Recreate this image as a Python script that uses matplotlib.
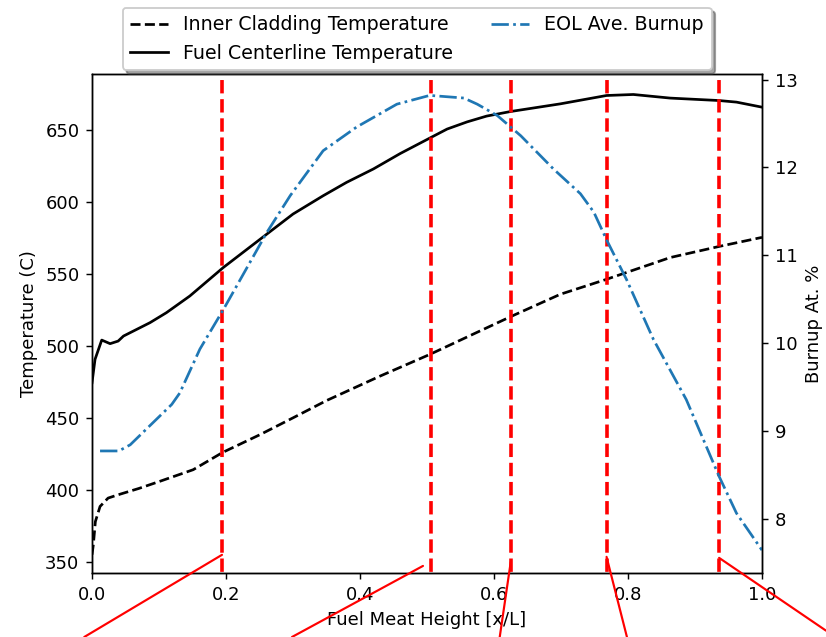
import numpy as np
import matplotlib
matplotlib.use("Agg")
import matplotlib.pyplot as plt
from matplotlib.patches import ConnectionPatch

# inner cladding temperature (C) vs fuel meat height x/L
clad_x = [0.0, 0.002, 0.005, 0.012, 0.024, 0.039, 0.07, 0.101, 0.151, 0.195, 0.251, 0.3, 0.35,
          0.43, 0.504, 0.625, 0.699, 0.768, 0.863, 0.936, 1.0]
clad_t = [355, 362, 378, 388.5, 394.3, 396.6, 401, 405.9, 414, 426, 438.4, 450, 462,
          479, 494, 520.3, 535.8, 546.2, 561.3, 569, 575.3]

# fuel centerline temperature (C)
fuel_x = [0.0, 0.0045, 0.0145, 0.027, 0.039, 0.047, 0.0866, 0.111, 0.146, 0.196, 0.261, 0.3,
          0.345, 0.38, 0.42, 0.46, 0.504, 0.53, 0.56, 0.589, 0.625, 0.699, 0.768, 0.808,
          0.863, 0.936, 0.962, 1.0]
fuel_t = [474.4, 490.6, 504, 501.5, 503.3, 506.8, 516.1, 523, 534.6, 554.4, 577.6, 591.5,
          604.2, 613.5, 622.8, 633.5, 644.2, 650.5, 655.5, 659.5, 662.7, 668, 673.8, 674.5,
          672, 670.3, 669.2, 665.7]

# EOL average burnup (at. %)
bu_x = [0.012, 0.04, 0.057, 0.119, 0.131, 0.161, 0.196, 0.261, 0.296, 0.345, 0.395, 0.455,
        0.504, 0.555, 0.575, 0.605, 0.64, 0.689, 0.729, 0.749, 0.769, 0.798, 0.838, 0.868,
        0.887, 0.936, 0.962, 1.0]
bu_v = [8.77, 8.77, 8.84, 9.30, 9.43, 9.93, 10.38, 11.26, 11.68, 12.19, 12.46, 12.72,
        12.82, 12.79, 12.72, 12.59, 12.36, 11.98, 11.70, 11.49, 11.16, 10.72, 10.04, 9.62,
        9.355, 8.48, 8.06, 7.64]

# zoom locations marked on the plot and where the connectors leave the figure
cut_x = [0.194, 0.506, 0.625, 0.769, 0.936]
conn_start = [(0.194, 354.9), (0.494, 347.2), (0.625, 350.0), (0.768, 353.5), (0.936, 352.8)]
conn_end = [(0.102, 0.0), (0.3535, 0.0), (0.605, 0.0), (0.759, 0.0), (1.0, 0.01)]

DPI = 130
fig = plt.figure(figsize=(826 / DPI, 637 / DPI), dpi=DPI)
ax = fig.add_axes([0.1114, 0.1005, 0.8111, 0.7835])
ax2 = ax.twinx()

l1, = ax.plot(clad_x, clad_t, 'k--', label='Inner Cladding Temperature')
l2, = ax.plot(fuel_x, fuel_t, 'k-', label='Fuel Centerline Temperature')
l3, = ax2.plot(bu_x, bu_v, '-.', color='C0', label='EOL Ave. Burnup')

ax.set_xlim(0, 1.0)
ax.set_ylim(342.3, 688.8)
ax2.set_ylim(7.38, 13.065)

ax.vlines(cut_x, 330, 685.3, colors='red', linestyles='--', lw=2)

ax.set_xlabel('Fuel Meat Height [x/L]')
ax.set_ylabel('Temperature (C)')
ax2.set_ylabel('Burnup At. %')

for (xa, ya), (xb, yb) in zip(conn_start, conn_end):
    con = ConnectionPatch(xyA=(xa, ya), coordsA=ax.transData,
                          xyB=(xb, yb), coordsB=fig.transFigure,
                          color='red', lw=1.2)
    fig.add_artist(con)

fig.legend(handles=[l1, l2, l3], loc='upper center', ncol=2, shadow=True,
           fontsize=10.5, bbox_to_anchor=(0.505, 1.003), bbox_transform=fig.transFigure)

fig.savefig('out.png', dpi=DPI)
